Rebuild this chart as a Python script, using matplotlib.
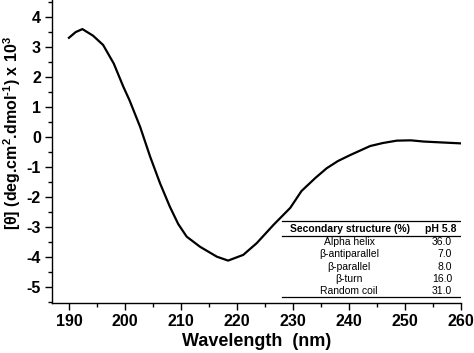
import matplotlib
matplotlib.use('Agg')
import matplotlib.pyplot as plt
from matplotlib.ticker import MultipleLocator

plt.rcParams['font.family'] = ['Liberation Sans', 'DejaVu Sans']
plt.rcParams['axes.unicode_minus'] = False
plt.rcParams['mathtext.fontset'] = 'custom'
plt.rcParams['mathtext.rm'] = 'Liberation Sans:bold'
plt.rcParams['mathtext.bf'] = 'Liberation Sans:bold'
plt.rcParams['mathtext.it'] = 'Liberation Sans:bold'

# CD spectrum
wavelength = [190.0, 191.2, 192.4, 194.3, 196.1, 198.0, 199.7, 200.8, 202.7, 204.5,
              206.25, 208.0, 209.5, 211.0, 213.4, 216.4, 218.4, 221.1, 223.5, 226.5,
              229.5, 231.5, 234.0, 236.0, 238.0, 240.2, 243.75, 246.0, 248.5, 251.0,
              253.3, 256.5, 259.8]
ellipticity = [3.31, 3.50, 3.60, 3.38, 3.07, 2.45, 1.68, 1.23, 0.34, -0.66,
               -1.54, -2.32, -2.90, -3.32, -3.66, -3.99, -4.12, -3.93, -3.54, -2.93,
               -2.36, -1.80, -1.36, -1.04, -0.80, -0.60, -0.30, -0.20, -0.12, -0.11,
               -0.15, -0.18, -0.21]

structures = ['Alpha helix', 'β-antiparallel', 'β-parallel', 'β-turn', 'Random coil']
percent_ph58 = [36.0, 7.0, 8.0, 16.0, 31.0]

fig = plt.figure(figsize=(4.74, 3.53), dpi=100)
ax = fig.add_axes([0.110, 0.142, 0.863, 0.858])
ax.plot(wavelength, ellipticity, color='black', lw=1.6)

ax.set_xlim(187, 260)
ax.set_ylim(-5.53, 4.57)
ax.xaxis.set_major_locator(MultipleLocator(10))
ax.xaxis.set_minor_locator(MultipleLocator(5))
ax.yaxis.set_major_locator(MultipleLocator(1))
ax.yaxis.set_minor_locator(MultipleLocator(0.5))
ax.spines['top'].set_visible(False)
ax.spines['right'].set_visible(False)
for s in ['left', 'bottom']:
    ax.spines[s].set_linewidth(1.0)
ax.tick_params(which='major', direction='out', length=5, width=1.0, labelsize=11.5, pad=3)
ax.tick_params(which='minor', direction='out', length=3, width=1.0)
for lbl in ax.get_xticklabels() + ax.get_yticklabels():
    lbl.set_fontweight('bold')

ax.set_xlabel('Wavelength  (nm)', fontsize=13, fontweight='bold', labelpad=3)
ax.set_ylabel('[θ] (deg.cm$^{2}$.dmol$^{\\text{-}1}$) x 10$^{3}$', fontsize=11.5,
              fontweight='bold')
ax.yaxis.set_label_coords(-0.072, 0.56)

# secondary structure table
x0, x1 = 228.0, 259.8
ax.plot([x0, x1], [-2.80, -2.80], color='black', lw=0.9)
ax.plot([x0, x1], [-3.29, -3.29], color='black', lw=0.9)
ax.plot([x0, x1], [-5.32, -5.32], color='black', lw=0.9)
ax.text(240.2, -3.08, 'Secondary structure (%)', fontsize=7.5, fontweight='bold',
        ha='center', va='center')
ax.text(259.1, -3.08, 'pH 5.8', fontsize=7.5, fontweight='bold', ha='right', va='center')
for i, (name, val) in enumerate(zip(structures, percent_ph58)):
    y = -3.50 - i * 0.41
    ax.text(240.0, y, name, fontsize=7.5, ha='center', va='center')
    ax.text(258.4, y, f'{val:.1f}', fontsize=7.5, ha='right', va='center')

fig.savefig('out.png', dpi=100)
